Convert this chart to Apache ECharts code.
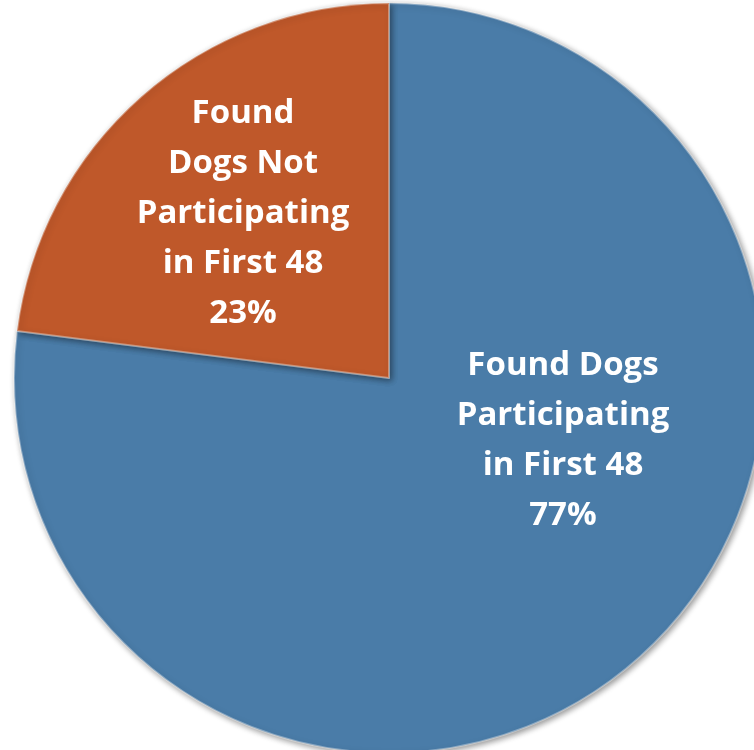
<!DOCTYPE html>
<html>
<head>
<meta charset="utf-8">
<script src="https://cdn.jsdelivr.net/npm/echarts@6/dist/echarts.min.js"></script>
<style>
  html, body { margin: 0; padding: 0; background: #fff; }
  #main { width: 754px; height: 750px; }
</style>
</head>
<body>
<div id="main"></div>
<script>
var names = ['Found Dogs\nParticipating\nin First 48', 'Found\nDogs Not\nParticipating\nin First 48'];
var values = [77, 23];
var colors = ['#4a7ca8', '#bf582a'];

var chart = echarts.init(document.getElementById('main'));

var data = [];
for (var i = 0; i < names.length; i++) {
    data.push({ name: names[i], value: values[i], itemStyle: { color: colors[i] } });
}

// label offsets from the default 'inside' spot
var labelShift = [[48, -80], [-20, -22]];

option = {
    animation: false,
    series: [
        {
            type: 'pie',
            center: [389, 378],
            radius: 375,
            startAngle: 90,
            clockwise: true,
            percentPrecision: 0,
            data: data,
            itemStyle: {
                borderColor: 'rgba(255,255,255,0.35)',
                borderWidth: 2,
                shadowBlur: 6,
                shadowColor: 'rgba(0,0,0,0.45)',
                shadowOffsetX: 2,
                shadowOffsetY: 2
            },
            label: {
                position: 'inside',
                formatter: '{b}\n{d}%',
                color: '#fff',
                fontFamily: 'Open Sans',
                fontWeight: 'bold',
                fontSize: 33,
                lineHeight: 50,
                align: 'center'
            },
            labelLine: { show: false },
            labelLayout: function (params) {
                var s = labelShift[params.dataIndex];
                return { dx: s[0], dy: s[1] };
            }
        }
    ]
};
chart.setOption(option);
</script>
</body>
</html>
